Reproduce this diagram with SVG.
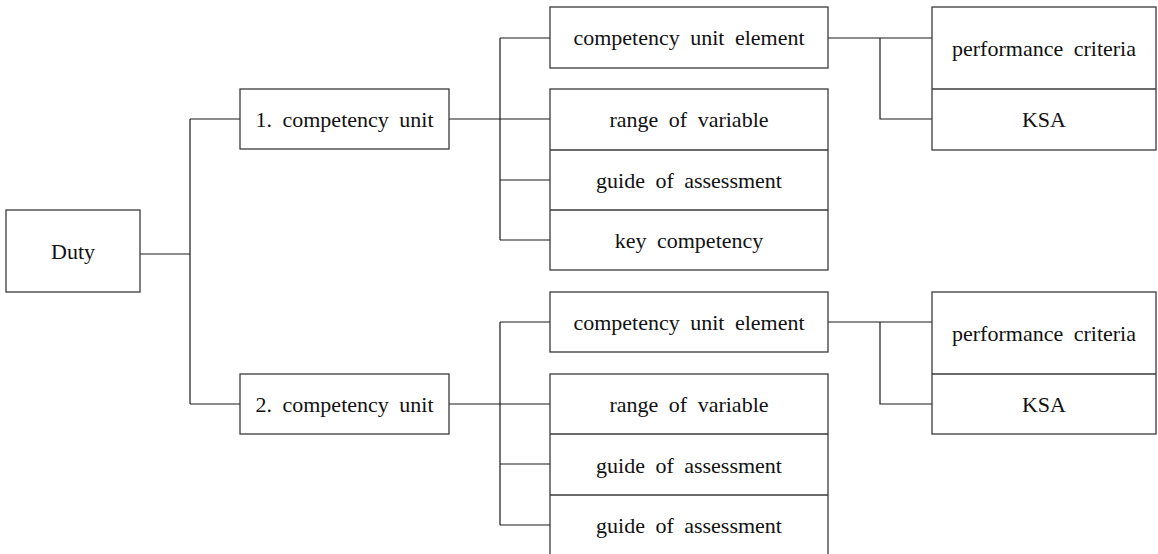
<svg xmlns="http://www.w3.org/2000/svg" width="1158" height="554" viewBox="0 0 1158 554">
<style>
  .box { fill: #ffffff; stroke: #3a3a3a; stroke-width: 1.3; }
  .div { stroke: #3a3a3a; stroke-width: 1.3; fill: none; }
  .conn { stroke: #1a1a1a; stroke-width: 1.2; fill: none; }
  .t { font-family: 'Liberation Serif', 'DejaVu Serif', serif; font-size: 22px; fill: #111; text-anchor: middle; word-spacing: 5px; }
</style>
<rect width="1158" height="554" fill="#ffffff"/>
<g id="connectors">
  <path class="conn" d="M140 254 H190 M190 119 V404 M190 119 H240 M190 404 H240"/>
  <path class="conn" d="M449 119 H550 M500 38 V240 M500 38 H550 M500 180 H550 M500 240 H550"/>
  <path class="conn" d="M449 404 H550 M500 322 V525 M500 322 H550 M500 464 H550 M500 525 H550"/>
  <path class="conn" d="M828 38 H932 M880 38 V119 H932"/>
  <path class="conn" d="M828 322 H932 M880 322 V404 H932"/>
</g>
<g id="duty">
  <rect class="box" x="6" y="210" width="134" height="82"/>
  <text class="t" font-family="Liberation Serif" x="73" y="258.5">Duty</text>
</g>
<g id="unit1">
  <rect class="box" x="240" y="89" width="209" height="60"/>
  <text class="t" font-family="Liberation Serif" x="344.5" y="126.5">1. competency unit</text>
</g>
<g id="unit2">
  <rect class="box" x="240" y="374" width="209" height="60"/>
  <text class="t" font-family="Liberation Serif" x="344.5" y="411.5">2. competency unit</text>
</g>
<g id="element1">
  <rect class="box" x="550" y="7" width="278" height="61"/>
  <text class="t" font-family="Liberation Serif" x="689" y="45">competency unit element</text>
</g>
<g id="attributes1">
  <rect class="box" x="550" y="89" width="278" height="181"/>
  <path class="div" d="M550 150 H828 M550 210 H828"/>
  <text class="t" font-family="Liberation Serif" x="689" y="127">range of variable</text>
  <text class="t" font-family="Liberation Serif" x="689" y="187.5">guide of assessment</text>
  <text class="t" font-family="Liberation Serif" x="689" y="247.5">key competency</text>
</g>
<g id="criteria1">
  <rect class="box" x="932" y="7" width="224" height="143"/>
  <path class="div" d="M932 89 H1156"/>
  <text class="t" font-family="Liberation Serif" x="1044" y="55.5">performance criteria</text>
  <text class="t" font-family="Liberation Serif" x="1044" y="127">KSA</text>
</g>
<g id="element2">
  <rect class="box" x="550" y="292" width="278" height="60"/>
  <text class="t" font-family="Liberation Serif" x="689" y="330">competency unit element</text>
</g>
<g id="attributes2">
  <rect class="box" x="550" y="374" width="278" height="190"/>
  <path class="div" d="M550 434 H828 M550 495 H828"/>
  <text class="t" font-family="Liberation Serif" x="689" y="412">range of variable</text>
  <text class="t" font-family="Liberation Serif" x="689" y="472.5">guide of assessment</text>
  <text class="t" font-family="Liberation Serif" x="689" y="532.5">guide of assessment</text>
</g>
<g id="criteria2">
  <rect class="box" x="932" y="292" width="224" height="142"/>
  <path class="div" d="M932 374 H1156"/>
  <text class="t" font-family="Liberation Serif" x="1044" y="340.5">performance criteria</text>
  <text class="t" font-family="Liberation Serif" x="1044" y="412">KSA</text>
</g>
</svg>
